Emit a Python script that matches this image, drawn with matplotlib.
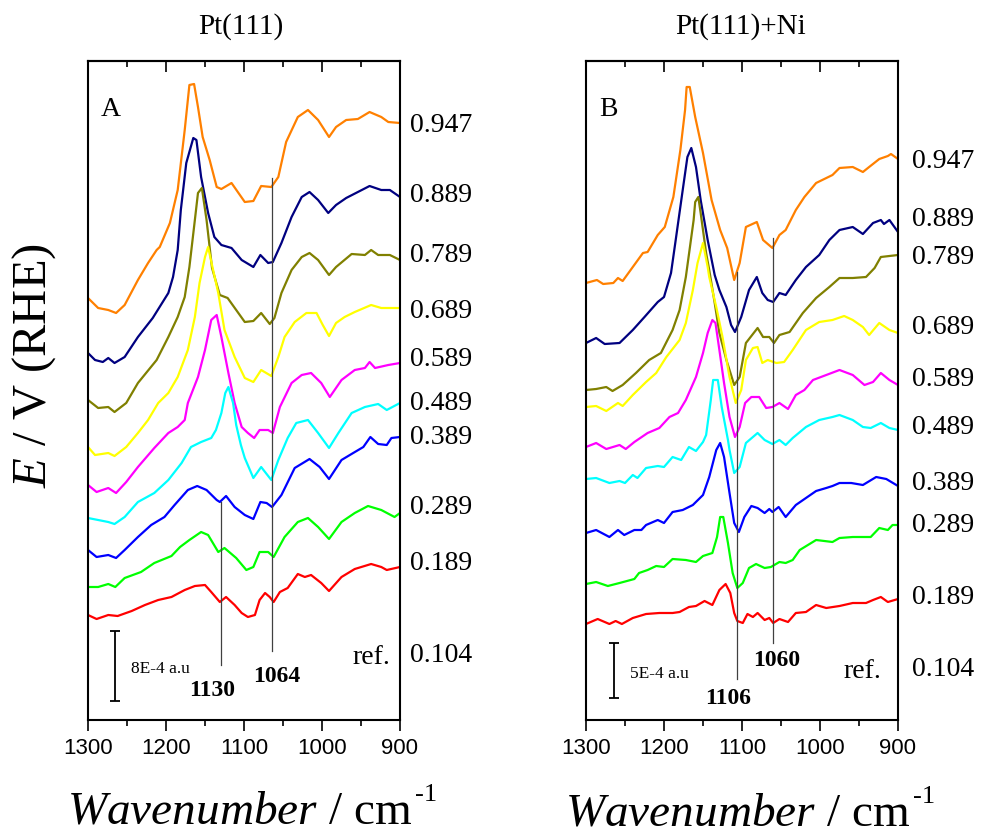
import matplotlib
matplotlib.use("Agg")
import matplotlib.pyplot as plt
from matplotlib.ticker import MultipleLocator
from matplotlib.transforms import blended_transform_factory

plt.rcParams["font.family"] = ["Liberation Serif", "DejaVu Serif"]
plt.rcParams["mathtext.fontset"] = "custom"
plt.rcParams["mathtext.rm"] = "Liberation Serif"
plt.rcParams["mathtext.it"] = "Liberation Serif:italic"

# Spectra: (wavenumber / cm-1, stacked height, arb. units)
# panel A: Pt(111)
A_947 = [(1300, 422), (1287, 412), (1274, 410), (1264, 407), (1253, 415), (1236, 440), (1223, 457),
         (1212, 470), (1208, 473), (1195, 497), (1185, 530), (1176, 590), (1170, 635), (1164, 636),
         (1159, 613), (1153, 583), (1144, 560), (1135, 533), (1129, 531), (1116, 537), (1099, 518),
         (1088, 519), (1078, 534), (1065, 533), (1056, 543), (1046, 578), (1031, 603), (1018, 610),
         (1005, 600), (991, 583), (982, 593), (969, 600), (954, 601), (939, 608), (924, 603),
         (915, 598), (900, 597)]
A_889 = [(1300, 367), (1291, 360), (1281, 358), (1274, 362), (1266, 357), (1253, 363), (1236, 383),
         (1217, 402), (1197, 427), (1191, 443), (1185, 470), (1181, 510), (1174, 557), (1165, 582),
         (1161, 580), (1155, 543), (1146, 507), (1138, 483), (1129, 475), (1116, 472), (1103, 460),
         (1088, 453), (1079, 465), (1069, 457), (1063, 458), (1052, 477), (1039, 503), (1026, 523),
         (1016, 528), (1005, 520), (992, 507), (982, 515), (969, 522), (954, 528), (939, 534),
         (924, 530), (913, 530), (900, 523)]
A_789 = [(1300, 320), (1287, 312), (1274, 313), (1266, 308), (1251, 317), (1236, 337), (1212, 360),
         (1197, 383), (1185, 403), (1176, 423), (1170, 453), (1163, 500), (1159, 527), (1154, 532),
         (1148, 500), (1141, 452), (1131, 425), (1121, 422), (1110, 410), (1099, 398), (1088, 399),
         (1078, 407), (1067, 396), (1061, 402), (1052, 427), (1039, 450), (1026, 463), (1016, 467),
         (1005, 460), (991, 445), (982, 453), (962, 466), (945, 465), (937, 470), (928, 465),
         (913, 465), (900, 460)]
A_689 = [(1300, 273), (1291, 265), (1274, 267), (1266, 264), (1251, 273), (1236, 287), (1223, 300),
         (1210, 317), (1197, 327), (1185, 343), (1172, 370), (1163, 403), (1157, 437), (1150, 463),
         (1146, 473), (1141, 455), (1133, 427), (1125, 390), (1112, 363), (1099, 342), (1088, 338),
         (1078, 350), (1065, 344), (1056, 363), (1048, 383), (1035, 398), (1020, 407), (1007, 407),
         (999, 395), (991, 384), (982, 397), (971, 403), (958, 408), (937, 415), (924, 412),
         (900, 412)]
A_589 = [(1300, 235), (1289, 228), (1274, 232), (1264, 227), (1251, 238), (1236, 253), (1215, 272),
         (1197, 287), (1185, 293), (1176, 300), (1172, 317), (1159, 343), (1150, 370), (1142, 400),
         (1135, 405), (1129, 383), (1120, 347), (1112, 317), (1103, 293), (1095, 287), (1087, 282),
         (1080, 290), (1069, 290), (1063, 287), (1054, 313), (1039, 337), (1026, 345), (1014, 347),
         (1001, 337), (990, 323), (975, 340), (958, 350), (945, 352), (939, 358), (932, 352),
         (915, 355), (900, 357)]
A_489 = [(1300, 202), (1287, 200), (1274, 198), (1266, 196), (1253, 203), (1236, 218), (1215, 227),
         (1197, 240), (1180, 257), (1168, 273), (1155, 278), (1142, 282), (1136, 290), (1129, 307),
         (1124, 327), (1120, 333), (1114, 317), (1110, 295), (1104, 275), (1099, 262), (1088, 242),
         (1078, 253), (1065, 240), (1056, 260), (1044, 282), (1033, 297), (1018, 300), (1005, 287),
         (991, 272), (979, 287), (962, 307), (945, 313), (928, 316), (917, 310), (900, 317)]
A_389 = [(1300, 170), (1289, 163), (1274, 165), (1264, 162), (1253, 170), (1236, 183), (1219, 195),
         (1202, 203), (1189, 215), (1172, 230), (1160, 234), (1148, 230), (1135, 220), (1131, 218),
         (1123, 224), (1112, 213), (1099, 205), (1088, 201), (1079, 218), (1071, 217), (1064, 213),
         (1052, 225), (1035, 252), (1016, 261), (1003, 253), (991, 241), (975, 260), (960, 267),
         (947, 273), (938, 283), (928, 276), (917, 275), (911, 282), (900, 283)]
A_289 = [(1300, 133), (1287, 133), (1274, 136), (1265, 133), (1253, 142), (1232, 148), (1215, 157),
         (1193, 164), (1182, 173), (1170, 180), (1155, 188), (1146, 185), (1133, 168), (1125, 172),
         (1110, 162), (1097, 150), (1088, 153), (1080, 168), (1069, 168), (1062, 163), (1048, 183),
         (1031, 198), (1018, 202), (1005, 193), (991, 181), (975, 198), (958, 207), (941, 214),
         (924, 210), (907, 203), (900, 207)]
A_189 = [(1300, 105), (1289, 101), (1274, 105), (1262, 104), (1244, 109), (1227, 115), (1210, 120),
         (1193, 123), (1176, 130), (1163, 134), (1150, 135), (1142, 128), (1131, 118), (1123, 123),
         (1112, 115), (1103, 107), (1095, 103), (1086, 105), (1080, 120), (1073, 127), (1067, 123),
         (1062, 118), (1054, 128), (1044, 132), (1031, 146), (1022, 143), (1014, 145), (1001, 137),
         (991, 129), (975, 143), (958, 151), (937, 156), (924, 153), (917, 150), (900, 153)]

# panel B: Pt(111)+Ni
B_947 = [(1300, 437), (1286, 440), (1278, 436), (1265, 437), (1259, 442), (1253, 439), (1240, 453),
         (1227, 467), (1221, 468), (1208, 485), (1199, 493), (1188, 523), (1179, 570), (1173, 610),
         (1171, 633), (1167, 633), (1160, 603), (1150, 567), (1139, 520), (1128, 490), (1119, 472),
         (1110, 440), (1103, 457), (1095, 493), (1081, 498), (1073, 480), (1061, 472), (1052, 485),
         (1044, 490), (1031, 510), (1020, 523), (1005, 537), (984, 545), (975, 552), (958, 553),
         (945, 548), (937, 553), (924, 561), (913, 564), (909, 566), (900, 561)]
B_889 = [(1300, 377), (1287, 382), (1276, 376), (1257, 377), (1240, 390), (1225, 403), (1208, 418),
         (1200, 423), (1191, 447), (1185, 480), (1176, 530), (1170, 563), (1165, 572), (1159, 553),
         (1153, 520), (1144, 480), (1135, 445), (1129, 430), (1120, 413), (1114, 395), (1109, 388),
         (1101, 403), (1091, 430), (1081, 443), (1074, 427), (1067, 420), (1060, 418), (1052, 427),
         (1044, 425), (1031, 440), (1018, 453), (1001, 465), (988, 480), (975, 490), (958, 493),
         (945, 486), (932, 497), (922, 500), (918, 496), (911, 500), (900, 488)]
B_789 = [(1300, 330), (1287, 331), (1274, 333), (1266, 329), (1253, 335), (1236, 347), (1219, 360),
         (1204, 367), (1189, 390), (1180, 410), (1172, 443), (1162, 500), (1160, 518), (1156, 523),
         (1153, 507), (1146, 467), (1142, 450), (1135, 417), (1129, 387), (1120, 360), (1110, 335),
         (1103, 343), (1095, 377), (1088, 384), (1080, 392), (1073, 383), (1065, 383), (1059, 377),
         (1052, 385), (1039, 388), (1022, 407), (1005, 422), (988, 433), (975, 442), (958, 442),
         (941, 443), (930, 452), (922, 463), (900, 465)]
B_689 = [(1300, 313), (1287, 314), (1274, 309), (1259, 317), (1253, 314), (1240, 325), (1223, 338),
         (1210, 347), (1197, 363), (1180, 380), (1172, 397), (1163, 430), (1157, 457), (1150, 477),
         (1144, 453), (1142, 443), (1133, 413), (1125, 383), (1116, 343), (1108, 317), (1101, 330),
         (1095, 360), (1086, 372), (1080, 373), (1074, 357), (1067, 360), (1056, 357), (1046, 358),
         (1035, 370), (1018, 390), (1001, 398), (984, 400), (969, 404), (958, 400), (945, 393),
         (937, 385), (924, 397), (911, 390), (900, 387)]
B_589 = [(1300, 273), (1287, 277), (1274, 271), (1257, 275), (1249, 271), (1238, 278), (1221, 287),
         (1206, 292), (1193, 303), (1182, 307), (1172, 320), (1159, 343), (1150, 367), (1144, 387),
         (1138, 400), (1134, 397), (1129, 370), (1123, 337), (1116, 303), (1109, 283), (1103, 293),
         (1096, 317), (1088, 323), (1078, 323), (1069, 312), (1061, 313), (1052, 317), (1041, 311),
         (1031, 325), (1020, 330), (1009, 340), (992, 345), (975, 350), (958, 345), (943, 335),
         (932, 338), (922, 347), (911, 340), (900, 335)]
B_489 = [(1300, 241), (1287, 242), (1270, 237), (1257, 239), (1250, 237), (1240, 245), (1234, 242),
         (1223, 252), (1208, 254), (1200, 253), (1189, 263), (1178, 260), (1168, 273), (1159, 269),
         (1150, 278), (1146, 285), (1140, 320), (1137, 340), (1131, 340), (1126, 313), (1118, 280),
         (1116, 270), (1110, 247), (1103, 253), (1095, 277), (1086, 283), (1080, 287), (1071, 280),
         (1061, 276), (1052, 280), (1044, 275), (1035, 282), (1018, 293), (1001, 300), (984, 303),
         (975, 305), (958, 300), (945, 293), (935, 292), (922, 297), (911, 292), (900, 290)]
B_389 = [(1300, 187), (1287, 190), (1270, 183), (1259, 190), (1251, 185), (1238, 190), (1229, 190),
         (1223, 195), (1208, 200), (1200, 197), (1189, 208), (1176, 210), (1163, 215), (1150, 225),
         (1142, 243), (1133, 270), (1128, 277), (1123, 263), (1116, 227), (1110, 197), (1104, 188),
         (1097, 203), (1088, 214), (1080, 212), (1071, 207), (1065, 211), (1061, 208), (1053, 213),
         (1044, 203), (1031, 215), (1018, 222), (1005, 229), (992, 232), (984, 234), (975, 237),
         (960, 237), (945, 235), (928, 243), (915, 241), (900, 234)]
B_289 = [(1300, 136), (1287, 138), (1272, 134), (1257, 137), (1238, 141), (1232, 147), (1221, 150),
         (1210, 154), (1200, 153), (1189, 161), (1172, 160), (1159, 158), (1150, 164), (1138, 167),
         (1132, 183), (1128, 203), (1124, 203), (1118, 177), (1112, 147), (1106, 132), (1099, 137),
         (1091, 152), (1082, 156), (1071, 152), (1063, 153), (1052, 158), (1044, 157), (1035, 160),
         (1026, 170), (1005, 180), (984, 178), (975, 182), (958, 183), (945, 183), (935, 183),
         (924, 192), (913, 190), (907, 195), (900, 195)]
B_189 = [(1300, 96), (1285, 101), (1270, 96), (1262, 99), (1254, 96), (1240, 102), (1223, 106),
         (1206, 107), (1189, 107), (1180, 108), (1168, 113), (1159, 114), (1148, 119), (1138, 115),
         (1129, 130), (1121, 136), (1115, 127), (1110, 107), (1106, 99), (1099, 97), (1093, 106),
         (1086, 103), (1080, 107), (1071, 100), (1065, 102), (1060, 97), (1052, 101), (1041, 98),
         (1031, 107), (1018, 108), (1005, 115), (992, 112), (975, 114), (958, 117), (941, 117),
         (932, 120), (922, 123), (913, 118), (900, 121)]

colors = ["#FF8000", "#000080", "#808000", "#FFFF00", "#FF00FF", "#00FFFF", "#0000FF", "#00FF00", "#FF0000"]
potentials = ["0.947", "0.889", "0.789", "0.689", "0.589", "0.489", "0.389", "0.289", "0.189"]
label_y_A = [595, 525, 465, 408, 360, 317, 282, 212, 157]
label_y_B = [558, 500, 462, 393, 340, 293, 237, 195, 122]
ref_potential = "0.104"

# marker lines: (wavenumber, bottom, top), label (text, x, y)
lines_A = [(1130, 55, 218), (1064, 69, 542)]
marks_A = [("1130", 1141, 30), ("1064", 1058, 43)]
lines_B = [(1106, 41, 448), (1060, 77, 482)]
marks_B = [("1106", 1118, 21), ("1060", 1056, 59)]

fig = plt.figure(figsize=(9.81, 8.34), dpi=100)
W, H = 981, 834


def make_panel(x0, spectra, label_y, ref_y, lines, marks, letter, bar, bar_text, ref_xy, lab_dx):
    ax = fig.add_axes([x0 / W, 114 / H, 312 / W, 659 / H])
    for spec, c in zip(spectra, colors):
        ax.plot([p[0] for p in spec], [p[1] for p in spec], color=c, lw=1.6)
    for w, y0, y1 in lines:
        ax.plot([w, w], [y0, y1], color="0.25", lw=0.9)
    for txt, w, y in marks:
        ax.text(w, y, txt, ha="center", va="center", fontsize=17, fontweight="bold")
    ax.errorbar(bar[0], (bar[1] + bar[2]) / 2, yerr=(bar[2] - bar[1]) / 2, color="k",
                lw=1.3, capsize=3.5, capthick=1.3)
    ax.text(bar[0] - 20, (bar[1] + bar[2]) / 2 - 3, bar_text, ha="left", va="center", fontsize=12.5)
    ax.text(ref_xy[0], ref_xy[1], "ref.", ha="center", va="center", fontsize=20)
    ax.text(1271, 610, letter, ha="center", va="center", fontsize=20)
    tr = blended_transform_factory(ax.transAxes, ax.transData)
    for p, y in zip(potentials + [ref_potential], label_y + [ref_y]):
        ax.text(1 + lab_dx / 312, y, p, transform=tr, ha="left", va="center", fontsize=20,
                clip_on=False)
    ax.set_xlim(1300, 900)
    ax.set_ylim(0, 659)
    ax.set_yticks([])
    ax.xaxis.set_major_locator(MultipleLocator(100))
    ax.xaxis.set_minor_locator(MultipleLocator(50))
    ax.tick_params(axis="x", which="major", direction="out", length=8, width=1.2,
                   labelsize=16, pad=5)
    ax.tick_params(axis="x", which="minor", direction="out", length=4.5, width=1.2)
    for lab in ax.get_xticklabels():
        lab.set_fontfamily("Liberation Sans")
    for s in ax.spines.values():
        s.set_linewidth(1.5)
    top = ax.secondary_xaxis("top")
    top.xaxis.set_major_locator(MultipleLocator(100))
    top.xaxis.set_minor_locator(MultipleLocator(50))
    top.tick_params(axis="x", which="major", direction="in", length=8, width=1.2, labeltop=False)
    top.tick_params(axis="x", which="minor", direction="in", length=4, width=1.2)
    top.spines["top"].set_linewidth(1.5)
    return ax


axA = make_panel(88, [A_947, A_889, A_789, A_689, A_589, A_489, A_389, A_289, A_189],
                 label_y_A, 65, lines_A, marks_A, "A", (1265, 19, 89), "8E-4 a.u", (936, 63), 10)
axB = make_panel(586, [B_947, B_889, B_789, B_689, B_589, B_489, B_389, B_289, B_189],
                 label_y_B, 50, lines_B, marks_B, "B", (1264, 22, 77), "5E-4 a.u", (945, 48), 14)

fig.text(241 / W, 1 - 27 / H, "Pt(111)", ha="center", va="center", fontsize=21)
fig.text(741 / W, 1 - 27 / H, "Pt(111)+Ni", ha="center", va="center", fontsize=21)
fig.text(34 / W, 1 - 366 / H, r"$\mathit{E}$ / V (RHE)", rotation=90, ha="center",
         va="center", fontsize=35)

# x titles with a small raised "-1"
for xl, yb in [(67, 823), (565, 825)]:
    t = fig.text(xl / W, 1 - yb / H, r"$\mathit{Wavenumber}$ / cm", ha="left",
                 va="baseline", fontsize=34)
    plt.annotate("-1", xy=(1.0, 1.0), xycoords=t, xytext=(2, 5), textcoords="offset points",
                 ha="left", va="top", fontsize=19, annotation_clip=False)

fig.savefig("out.png", dpi=100)
